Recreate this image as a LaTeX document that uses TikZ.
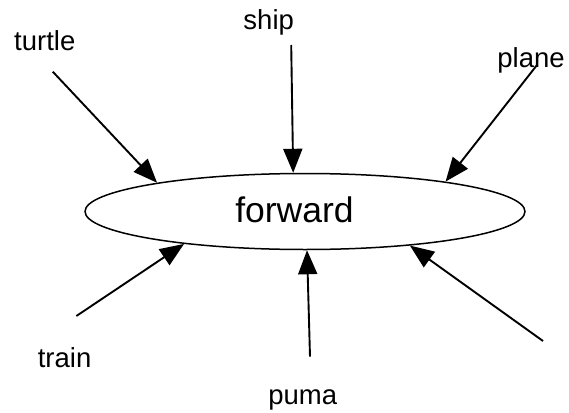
\documentclass[tikz,border=0pt]{standalone}
\usepackage{fontspec}
\setmainfont{Liberation Sans}
\usetikzlibrary{shapes.geometric,arrows.meta}
\begin{document}
\begin{tikzpicture}[x=1pt,y=-1pt,
  lab/.style={font=\fontsize{27.5}{30}\selectfont, anchor=base, inner sep=0pt},
  conn/.style={line width=1.9pt, -{Triangle[length=24pt,width=19pt]}}]
\useasboundingbox (0,0) rectangle (569,412);
\node[ellipse, draw, line width=1.5pt, minimum width=440pt, minimum height=76pt, inner sep=0pt] (fw) at (305,211.5) {};
\node[font=\fontsize{35.5}{38}\selectfont, anchor=base, inner sep=0pt] (fwt) at (294.5,222) {forward};
\node[lab] (turtle) at (44.8,50) {turtle};
\node[lab] (ship) at (268.7,30) {ship};
\node[lab] (plane) at (531,67) {plane};
\node[lab] (train) at (64.6,367) {train};
\node[lab] (puma) at (302.7,404) {puma};
\coordinate (s1) at (52.8,71.7);
\coordinate (s2) at (291.2,45);
\coordinate (s3) at (537,65);
\coordinate (s4) at (76.4,316);
\coordinate (s5) at (310,356.7);
\coordinate (s6) at (543,341);
\draw[conn] (s1) -- (fw.169.8);
\draw[conn] (s2) -- (fw.107);
\draw[conn] (s3) -- (fw.12.8);
\draw[conn] (s4) -- (fw.195);
\draw[conn] (s5) -- (fw.273.7);
\draw[conn] (s6) -- (fw.342.9);
\end{tikzpicture}
\end{document}
